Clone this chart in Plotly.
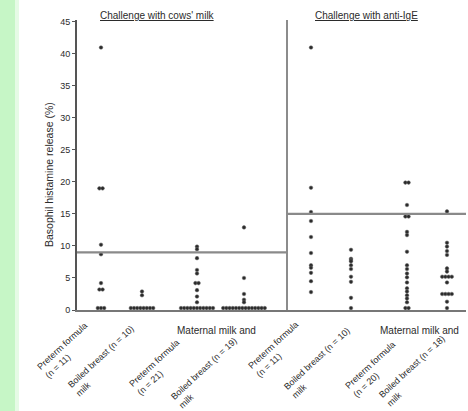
import plotly.graph_objects as go

# ---------------- data ----------------
panel_titles = ["Challenge with cows' milk", "Challenge with anti-IgE"]
y_title = "Basophil histamine release (%)"
group_label = "Maternal milk and"

col_labels = [
    "Preterm formula<br>(n = 11)",
    "Boiled breast (n = 10)<br>milk",
    "Preterm formula<br>(n = 21)",
    "Boiled breast (n = 19)<br>milk",
    "Preterm formula<br>(n = 11)",
    "Boiled breast (n = 10)<br>milk",
    "Preterm formula<br>(n = 20)",
    "Boiled breast (n = 18)<br>milk",
]

cm_preterm = [41, 19, 19, 10.2, 8.7, 4.2, 3.2, 3.2, 0.3, 0.3, 0.3]
cm_boiled = [2.9, 2.3, 0.3, 0.3, 0.3, 0.3, 0.3, 0.3, 0.3, 0.3]
cm_mat_preterm = [9.9, 9.5, 8.1, 6.25, 5.7, 4.2, 4.2, 3.1, 2.1, 1.2,
                  0.3, 0.3, 0.3, 0.3, 0.3, 0.3, 0.3, 0.3, 0.3, 0.3, 0.3]
cm_mat_boiled = [12.9, 5.0, 2.5, 1.6, 1.2,
                 0.3, 0.3, 0.3, 0.3, 0.3, 0.3, 0.3, 0.3, 0.3, 0.3, 0.3, 0.3, 0.3, 0.3]
ige_preterm = [41, 19.1, 15.3, 13.9, 11.4, 8.9, 7.0, 6.6, 5.8, 4.5, 2.8]
ige_boiled = [9.4, 8.0, 7.8, 7.6, 7.0, 6.4, 5.2, 4.4, 1.9, 0.3]
ige_mat_preterm = [19.9, 19.9, 16.4, 14.6, 14.6, 12.2, 11.7, 9.1, 7.0, 6.4,
                   5.7, 5.1, 4.3, 3.4, 2.9, 2.3, 1.8, 1.2, 0.3, 0.3]
ige_mat_boiled = [15.4, 10.5, 9.9, 9.2, 8.6, 6.5, 6.0, 5.2, 5.2, 5.2, 5.2,
                  4.3, 2.5, 2.5, 2.5, 2.5, 1.3, 0.3]

series = [cm_preterm, cm_boiled, cm_mat_preterm, cm_mat_boiled,
          ige_preterm, ige_boiled, ige_mat_preterm, ige_mat_boiled]
thresholds = [9.0, 15.0]
y_ticks = list(range(0, 50, 5))

# ---------------- layout constants ----------------
W, H = 468, 411
ML, MR, MT, MB = 77, 2, 20, 101
PW, PH = W - ML - MR, H - MT - MB
X_MAX = PW / 10.0
col_pos = [2.4, 6.5, 12.0, 16.7, 23.4, 27.4, 33.0, 37.0]
divider = 21.0
step = 0.32
FONT = "Liberation Sans"
INK = "#2b2b2b"


def px_to_paper_y(py):
    return ((MT + PH) - py) / PH


def px_to_paper_x(px):
    return (px - ML) / PW


def spread(vals, center):
    xs, ys = [], []
    counts = {}
    for v in vals:
        counts[v] = counts.get(v, 0) + 1
    for v, k in counts.items():
        for i in range(k):
            xs.append(center + (i - (k - 1) / 2) * step)
            ys.append(v)
    return xs, ys


fig = go.Figure()
for vals, cx in zip(series, col_pos):
    xs, ys = spread(vals, cx)
    fig.add_trace(go.Scatter(x=xs, y=ys, mode="markers",
                             marker=dict(size=3.6, color=INK, line=dict(width=0.5, color="#666")),
                             showlegend=False, hoverinfo="skip"))

shapes = [
    dict(type="rect", xref="paper", yref="paper",
         x0=px_to_paper_x(0), x1=px_to_paper_x(15), y0=px_to_paper_y(H), y1=px_to_paper_y(0),
         fillcolor="#c6f6c6", line=dict(width=0), layer="below"),
    dict(type="rect", xref="paper", yref="paper",
         x0=px_to_paper_x(15), x1=px_to_paper_x(19), y0=px_to_paper_y(H), y1=px_to_paper_y(0),
         fillcolor="#e6fbe6", line=dict(width=0), layer="below"),
    dict(type="line", xref="x", yref="paper", x0=divider, x1=divider, y0=0, y1=1,
         line=dict(color="#666", width=1.5)),
    dict(type="line", xref="x", yref="y", x0=0, x1=divider, y0=thresholds[0], y1=thresholds[0],
         line=dict(color="#8a8a8a", width=2.2)),
    dict(type="line", xref="x", yref="y", x0=divider, x1=X_MAX, y0=thresholds[1], y1=thresholds[1],
         line=dict(color="#8a8a8a", width=2.2)),
]

annotations = []
for txt, cx in zip(panel_titles, [8.0, 28.9]):
    annotations.append(dict(text="<u>" + txt + "</u>", x=cx, xref="x", y=px_to_paper_y(16), yref="paper",
                            showarrow=False, font=dict(family=FONT, size=10, color=INK),
                            xanchor="center", yanchor="middle"))
annotations.append(dict(text=y_title, x=px_to_paper_x(49), y=px_to_paper_y(175), xref="paper", yref="paper",
                        textangle=-90, showarrow=False, font=dict(family=FONT, size=10.5, color=INK),
                        xanchor="center", yanchor="middle"))
label_dx = [0.0, 0.5, -0.4, 0.6, 0.1, 1.2, 0.2, 1.1]
label_top = [317, 321, 334, 333, 316, 323, 336, 331]
for txt, cx, dx, top in zip(col_labels, col_pos, label_dx, label_top):
    annotations.append(dict(text=txt, x=cx + dx, xref="x", y=px_to_paper_y(top), yref="paper",
                            textangle=-43, showarrow=False, align="left",
                            font=dict(family=FONT, size=9, color=INK),
                            xanchor="right", yanchor="top"))
for gx in [175, 378]:
    annotations.append(dict(text=group_label, x=px_to_paper_x(gx), y=px_to_paper_y(330),
                            xref="paper", yref="paper", showarrow=False,
                            font=dict(family=FONT, size=10, color=INK),
                            xanchor="left", yanchor="middle"))

fig.update_layout(
    width=W, height=H,
    margin=dict(l=ML, r=MR, t=MT, b=MB),
    paper_bgcolor="white", plot_bgcolor="white",
    shapes=shapes, annotations=annotations,
    xaxis=dict(range=[0, X_MAX], showgrid=False, zeroline=False, showticklabels=False,
               ticks="", showline=True, linecolor="#777", linewidth=2, fixedrange=True),
    yaxis=dict(range=[0, 45.3], tickvals=y_ticks, ticktext=[str(t) for t in y_ticks],
               showgrid=False, zeroline=False, ticks="outside", ticklen=3, tickwidth=1,
               tickcolor="#555", showline=True, linecolor="#555", linewidth=2,
               tickfont=dict(family=FONT, size=9, color=INK), fixedrange=True),
)

fig.write_html("out.html")
